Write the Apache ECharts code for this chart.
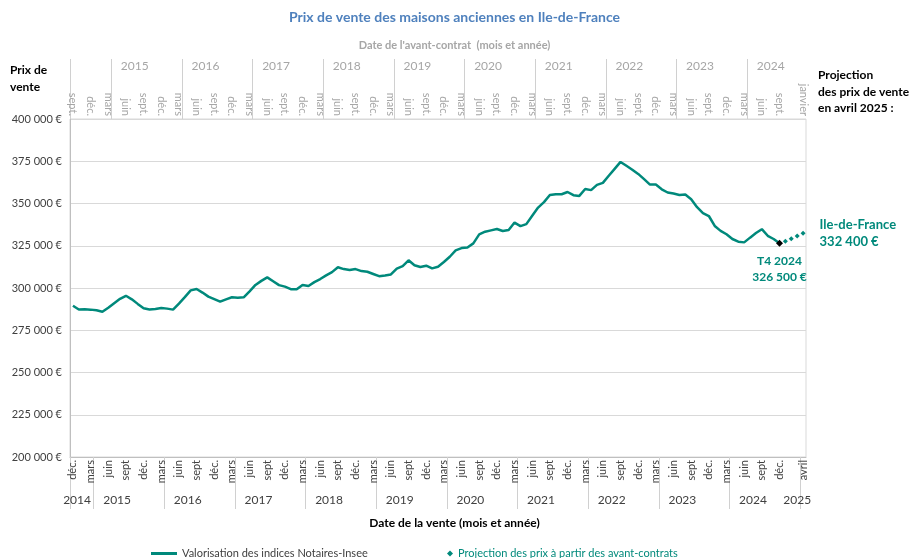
<!DOCTYPE html>
<html>
<head>
<meta charset="utf-8">
<script src="https://cdn.jsdelivr.net/npm/echarts@6/dist/echarts.min.js"></script>
<style>
  html, body { margin: 0; padding: 0; background: #fff; }
  #chart { width: 909px; height: 558px; }
</style>
</head>
<body>
<div id="chart"></div>
<script>
// mois de vente : déc. 2014 -> avril 2025
var moisDebut = { annee: 2014, mois: 12 }
var nbMois = 125
var etiquettesVente = { 12: 'déc.', 3: 'mars', 6: 'juin', 9: 'sept' }
var etiquettesContrat = { 9: 'sept.', 12: 'déc.', 3: 'mars', 6: 'juin' }
var derniereVente = 'avril'
var dernierContrat = 'janvier'

// années (positions en mois depuis le début de l'axe)
var anneesVente = ['2014', '2015', '2016', '2017', '2018', '2019', '2020', '2021', '2022', '2023', '2024', '2025']
var positionsAnneesVente = [1.2, 8, 20, 32, 44, 56, 68, 80, 92, 104, 116, 123.5]
var separateursVente = [0, 4, 16, 28, 40, 52, 64, 76, 88, 100, 112, 124]
var anneesContrat = ['2015', '2016', '2017', '2018', '2019', '2020', '2021', '2022', '2023', '2024']
var positionsAnneesContrat = [11, 23, 35, 47, 59, 71, 83, 95, 107, 119]
var separateursContrat = [0, 7, 19, 31, 43, 55, 67, 79, 91, 103, 115]

var nomValorisation = 'Valorisation des indices Notaires-Insee'
var nomProjection = 'Projection des prix à partir des avant-contrats'

// prix de vente mensuel, déc. 2014 -> déc. 2024
var prixVente = [
  289500, 287300, 287400, 287200, 286800, 285900, 288300, 291000, 293600, 295400,
  293300, 290600, 288000, 287300, 287600, 288200, 287800, 287200, 290800, 294600,
  298600, 299400, 297300, 294900, 293400, 291900, 293300, 294500, 294200, 294500,
  298000, 301800, 304200, 306300, 304000, 301700, 300800, 299300, 299200, 301800,
  301200, 303500, 305300, 307500, 309400, 312300, 311200, 310600, 311200, 310000,
  309600, 308300, 307000, 307400, 308000, 311500, 313000, 316400, 313500, 312400,
  313200, 311600, 312600, 315400, 318500, 322300, 323600, 324000, 326400, 331700,
  333300, 334100, 334900, 333700, 334300, 338700, 336600, 337800, 342800, 347600,
  350800, 355000, 355500, 355500, 356800, 354900, 354500, 358600, 357900, 361000,
  362200, 366400, 370500, 374600, 372300, 370000, 367500, 364400, 361200, 361200,
  358400, 356500, 355900, 355000, 355300, 352500, 347800, 344300, 342600, 336700,
  333800, 331800, 329000, 327400, 327000, 329800, 332500, 334800, 330900, 329000,
  326500
]
// projection déc. 2024 -> avril 2025
var projection = [326500, 327700, 329200, 330800, 332400]

var vert = '#00897b'
var police = 'Lato'

function euros(v) {
  return String(Math.round(v)).replace(/\B(?=(\d{3})+(?!\d))/g, ' ') + ' €'
}

var categories = []
var libellesVente = []
var libellesContrat = []
for (var i = 0; i < nbMois; i++) {
  var m = (moisDebut.mois - 1 + i) % 12 + 1
  var a = moisDebut.annee + Math.floor((moisDebut.mois - 1 + i) / 12)
  categories.push(a + '-' + m)
  var mc = (m + 8) % 12 + 1
  var trimestre = i % 3 === 0 && i < nbMois - 2
  libellesVente.push(trimestre ? (etiquettesVente[m] || '') : '')
  libellesContrat.push(trimestre ? (etiquettesContrat[mc] || '') : '')
}
libellesVente[nbMois - 1] = derniereVente
libellesContrat[nbMois - 1] = dernierContrat

var donneesProjection = categories.map(function () { return '-' })
projection.forEach(function (v, k) {
  donneesProjection[nbMois - projection.length + k] = v
})
donneesProjection[nbMois - projection.length] = {
  value: projection[0],
  symbolSize: 7,
  itemStyle: { color: '#000' },
  label: {
    show: true,
    position: 'bottom',
    distance: 6,
    align: 'center',
    formatter: function (p) { return 'T4 2024\n' + euros(p.value) },
    color: vert, fontWeight: 'bold', fontSize: 12, lineHeight: 16, fontFamily: police
  }
}
donneesProjection[nbMois - 1] = {
  value: projection[projection.length - 1],
  label: {
    show: true,
    position: 'right',
    distance: 14,
    align: 'left',
    formatter: function (p) { return 'Ile-de-France\n' + euros(p.value) },
    color: vert, fontWeight: 'bold', fontSize: 13, lineHeight: 17, fontFamily: police
  }
}

function anneeA(positions, annees) {
  return function (v) {
    var k = positions.indexOf(v)
    return k < 0 ? '' : annees[k]
  }
}

var chart = echarts.init(document.getElementById('chart'), null, { renderer: 'canvas' })
var option = {
  animation: false,
  textStyle: { fontFamily: police },
  title: [
    { text: 'Prix de vente des maisons anciennes en Ile-de-France', left: 'center', top: 5,
      textStyle: { fontSize: 14, fontWeight: 'bold', color: '#4f81bd', fontFamily: police } },
    { text: "Date de l'avant-contrat  (mois et année)", left: 'center', top: 35,
      textStyle: { fontSize: 11, fontWeight: 'bold', color: '#a6a6a6', fontFamily: police } },
    { text: 'Prix de\nvente', left: 5, top: 57,
      textStyle: { fontSize: 12, fontWeight: 'bold', color: '#000', lineHeight: 17, fontFamily: police } },
    { text: 'Projection\ndes prix de vente\nen avril 2025 :', left: 813, top: 62,
      textStyle: { fontSize: 12, fontWeight: 'bold', color: '#000', lineHeight: 16.5, fontFamily: police } },
    { text: 'Date de la vente (mois et année)', left: 'center', top: 512,
      textStyle: { fontSize: 12, fontWeight: 'bold', color: '#000', fontFamily: police } }
  ],
  legend: [
    { left: 146, top: 543, data: [{ name: nomValorisation, icon: 'rect' }],
      itemWidth: 26, itemHeight: 3, selectedMode: false,
      textStyle: { color: '#404040', fontSize: 11, fontFamily: police } },
    { left: 442, top: 543, data: [{ name: nomProjection, icon: 'diamond' }],
      itemWidth: 6, itemHeight: 6, selectedMode: false,
      textStyle: { color: vert, fontSize: 11, fontFamily: police } }
  ],
  grid: {
    left: 70, right: 103, top: 119, bottom: 101,
    show: true, borderColor: '#d9d9d9', borderWidth: 1
  },
  xAxis: [
    {
      type: 'category', position: 'bottom', data: categories, boundaryGap: true,
      axisLine: { show: true, lineStyle: { color: '#bfbfbf' } },
      axisTick: { show: false },
      axisLabel: {
        interval: 0, rotate: 90, margin: 3, fontSize: 11, color: '#404040',
        formatter: function (v, i) { return libellesVente[i] }
      },
      splitLine: { show: false }
    },
    {
      type: 'value', position: 'bottom', min: 0, max: nbMois,
      axisLine: { show: false },
      axisTick: { show: true, customValues: separateursVente, length: 52, lineStyle: { color: '#d0d0d0' } },
      axisLabel: {
        customValues: positionsAnneesVente, margin: 37, fontSize: 12, color: '#404040',
        formatter: anneeA(positionsAnneesVente, anneesVente)
      },
      splitLine: { show: false }
    },
    {
      type: 'category', position: 'top', data: categories, boundaryGap: true,
      axisLine: { show: false },
      axisTick: { show: false },
      axisLabel: {
        interval: 0, rotate: 90, margin: 3, fontSize: 11, color: '#a6a6a6',
        formatter: function (v, i) { return libellesContrat[i] }
      },
      splitLine: { show: false }
    },
    {
      type: 'value', position: 'top', min: 0, max: nbMois,
      axisLine: { show: false },
      axisTick: { show: true, customValues: separateursContrat, length: 60, lineStyle: { color: '#d0d0d0' } },
      axisLabel: {
        customValues: positionsAnneesContrat, margin: 47, fontSize: 12, color: '#a6a6a6',
        formatter: anneeA(positionsAnneesContrat, anneesContrat)
      },
      splitLine: { show: false }
    }
  ],
  yAxis: {
    type: 'value', min: 200000, max: 400000, interval: 25000,
    axisLine: { show: true, lineStyle: { color: '#bfbfbf' } },
    axisTick: { show: false },
    axisLabel: { fontSize: 11, color: '#404040', margin: 8, formatter: euros },
    splitLine: { lineStyle: { color: '#d9d9d9' } }
  },
  series: [
    {
      name: nomValorisation,
      type: 'line',
      xAxisIndex: 0,
      data: prixVente,
      color: vert,
      symbol: 'none',
      showSymbol: false,
      lineStyle: { width: 2.5, color: vert }
    },
    {
      name: nomProjection,
      type: 'line',
      xAxisIndex: 0,
      data: donneesProjection,
      color: vert,
      symbol: 'diamond',
      symbolSize: 5,
      showSymbol: true,
      showAllSymbol: true,
      itemStyle: { color: vert },
      lineStyle: { width: 0, opacity: 0 },
      z: 3
    }
  ]
}

chart.setOption(option)
</script>
</body>
</html>
